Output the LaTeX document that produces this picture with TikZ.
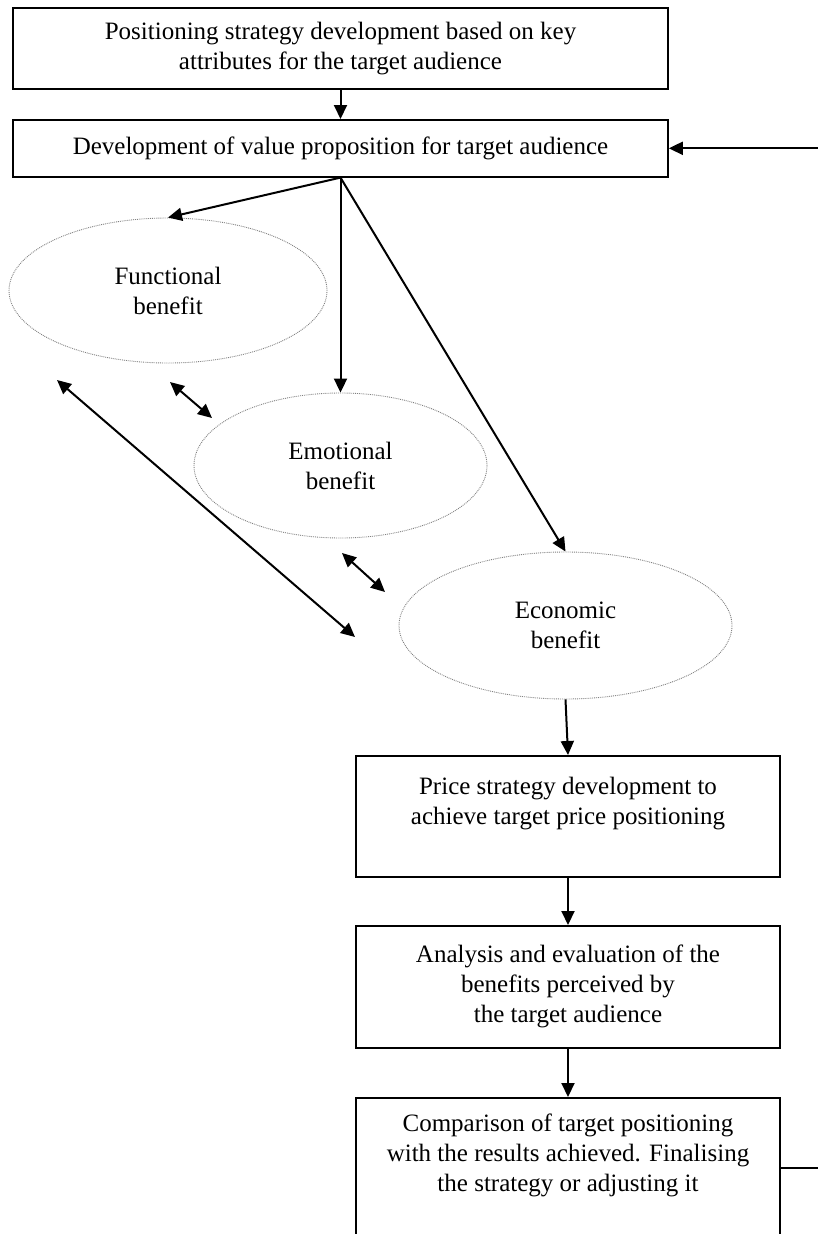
\documentclass[tikz,border=0pt]{standalone}
\usepackage{fontspec}
\setmainfont{Liberation Serif}
\usetikzlibrary{shapes.geometric, arrows.meta, positioning}

\begin{document}
\begin{tikzpicture}[x=1pt, y=-1pt,
		font=\fontsize{25}{30}\selectfont,
		box/.style={draw, line width=1.6pt, align=center, anchor=north, inner sep=0pt},
		benefit/.style={ellipse, draw=gray, densely dotted, line width=0.9pt, align=center, inner sep=0pt},
		arr/.style={-{Triangle[length=14pt,width=13pt]}, line width=2pt},
		dbl/.style={{Triangle[length=14pt,width=13pt]}-{Triangle[length=14pt,width=13pt]}, line width=2pt}]
			\useasboundingbox (0,0) rectangle (817,1234);
			
			\node[box, minimum width=655pt, minimum height=81pt] (posit) at (340.5,7) {Positioning strategy development based on key\\attributes for the target audience};
			\node[box, minimum width=655pt, minimum height=57pt] (value) at (340.5,119) {Development of value proposition for target audience};
			
			\node[benefit, minimum width=318pt, minimum height=145pt] (func) at (168,290.5) {Functional\\benefit};
			\node[benefit, minimum width=293pt, minimum height=145pt] (emot) at (340.5,465.5) {Emotional\\benefit};
			\node[benefit, minimum width=333pt, minimum height=147pt] (econ) at (565.5,625.5) {Economic\\benefit};
			
			\node[box, minimum width=424pt, minimum height=121pt] (price) at (568,755) {Price strategy development to\\achieve target price positioning\\\mbox{}};
			\node[box, minimum width=424pt, minimum height=122pt] (anal) at (568,925) {Analysis and evaluation of the\\benefits perceived by\\the target audience};
			\node[box, minimum width=424pt, minimum height=140pt] (comp) at (568,1097) {Comparison of target positioning\\with the results achieved. Finalising\\the strategy or adjusting it\\\mbox{}};
			
			\coordinate[right=150pt of value.east] (fbin);
			\coordinate[right=40pt of comp.east] (fbout);
			
			\coordinate (d1a) at (170,382);
			\coordinate (d1b) at (212,418);
			\coordinate (d2a) at (342,553);
			\coordinate (d2b) at (385,592);
			\coordinate (d3a) at (57,380);
			\coordinate (d3b) at (355,637);
			
			\draw[arr] (posit) -- (value);
			\draw[arr] (value.south) -- (func.north);
			\draw[arr] (value.south) -- (emot.north);
			\draw[arr] (value.south) -- (econ.north);
			\draw[arr] (econ.south) -- (price.north);
			\draw[arr] (price) -- (anal);
			\draw[arr] (anal) -- (comp);
			
			\draw[dbl] (d1a) -- (d1b);
			\draw[dbl] (d2a) -- (d2b);
			\draw[dbl] (d3a) -- (d3b);
			
			\draw[line width=2pt] (comp.east) -- (fbout);
			\draw[arr] (fbin) -- (value.east);
		\end{tikzpicture}
\end{document}
